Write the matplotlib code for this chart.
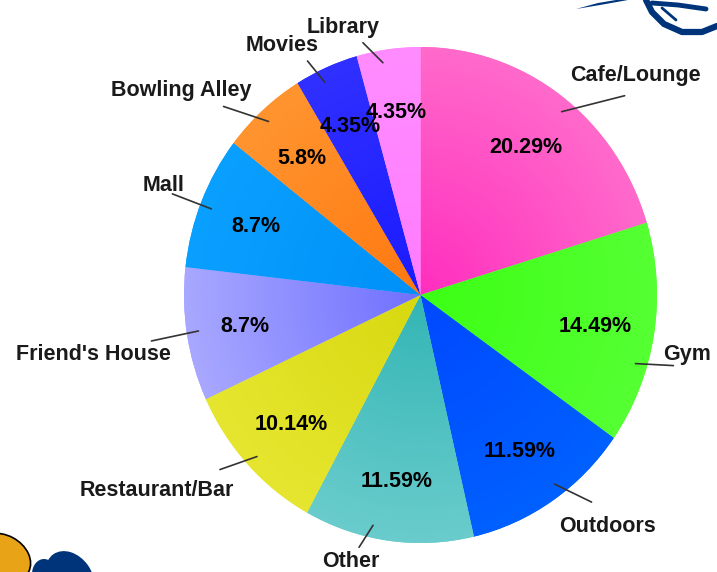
import numpy as np
import matplotlib
matplotlib.use("Agg")
import matplotlib.pyplot as plt
from matplotlib import patches, transforms
from matplotlib.colors import to_rgb

# ---------------- data ----------------
categories = ["Cafe/Lounge", "Gym", "Outdoors", "Other", "Restaurant/Bar",
              "Friend's House", "Mall", "Bowling Alley", "Movies", "Library"]
values = [20.29, 14.49, 11.59, 11.59, 10.14, 8.7, 8.7, 5.8, 4.35, 4.35]
pct_labels = ["20.29%", "14.49%", "11.59%", "11.59%", "10.14%",
              "8.7%", "8.7%", "5.8%", "4.35%", "4.35%"]

# ---------------- style / layout ----------------
inner_colors = ["#FF2EBE", "#3CFF14", "#0048FF", "#33B5B5", "#D8D810",
                "#7070FF", "#0090F8", "#FF7810", "#1A1AFF", "#FF7CFF"]
outer_colors = ["#FF6ACB", "#55FF33", "#0060FF", "#6ACCCC", "#E6E630",
                "#A8A8FF", "#0AA0FF", "#FF9530", "#3030FF", "#FF8CFF"]
# label leader layout (pixels, image y-down)
angle_shift = [-2.4, -7.8, 2.7, -4.4, 0.2, -0.4, 0.7, 0.8, 1.8, 1.8]
line_vec = [(63, -16), (38, 2), (37, 18), (-14, 22), (-37, 13),
            (-47, 10), (-39, -15), (-45, -15), (-17, -21), (-20, -20)]
text_off = [(11, -20), (14, -11), (16, 24), (-8, 14), (-63, 21),
            (-58, 14), (-9, -8), (-42, -16), (-25, -15), (-20, -15)]

W, H = 717, 572
fig = plt.figure(figsize=(W / 100, H / 100), dpi=100)
fig.patch.set_facecolor("white")

cx, cy, rx, ry = 420.5, 295.0, 236.5, 248.0
ax = fig.add_axes([(cx - rx) / W, (H - cy - ry) / H, 2 * rx / W, 2 * ry / H])

font = dict(family=["Liberation Sans", "DejaVu Sans"], weight="bold")

wedges, _ = ax.pie(values, startangle=90, counterclock=False, radius=1,
                   colors=outer_colors, wedgeprops=dict(linewidth=0))
ax.set_aspect("auto")
ax.set_xlim(-1, 1)
ax.set_ylim(-1, 1)
ax.axis("off")

# radial gradients clipped to wedges
N = 400
xs = np.linspace(-1, 1, N)
X, Y = np.meshgrid(xs, xs)
R = np.clip(np.sqrt(X ** 2 + Y ** 2), 0, 1)[..., None]
for w, ci, co in zip(wedges, inner_colors, outer_colors):
    a = np.array(to_rgb(ci))
    b = np.array(to_rgb(co))
    img = a * (1 - R) + b * R
    im = ax.imshow(img, extent=[-1, 1, -1, 1], origin="lower", aspect="auto",
                   zorder=2, interpolation="bilinear")
    im.set_clip_path(w)

# percentage labels
for w, p in zip(wedges, pct_labels):
    th = np.deg2rad((w.theta1 + w.theta2) / 2)
    ax.annotate(p, xy=(0.75 * np.cos(th), 0.75 * np.sin(th)), xytext=(0, -2),
                textcoords="offset pixels", ha="center", va="center",
                fontsize=15.5, color="black", zorder=5, **font)

# category labels with leader lines
for w, lab, sh, lv, to in zip(wedges, categories, angle_shift, line_vec, text_off):
    th = np.deg2rad((w.theta1 + w.theta2) / 2 + sh)
    p0 = (0.95 * np.cos(th), 0.95 * np.sin(th))
    ax.annotate("", xy=p0, xytext=(lv[0], -lv[1]), textcoords="offset pixels",
                arrowprops=dict(arrowstyle="-", color="#333333", lw=1.2,
                                shrinkA=0, shrinkB=0), zorder=6,
                annotation_clip=False)
    ax.annotate(lab, xy=p0, xytext=(lv[0] + to[0], -(lv[1] + to[1])),
                textcoords="offset pixels", ha="center", va="center",
                fontsize=15.5, color="#1a1a1a", zorder=6,
                annotation_clip=False, **font)

# ---------------- decorative logo fragments ----------------
pix = transforms.Affine2D().scale(1 / W, -1 / H).translate(0, 1) + fig.transFigure
navy = "#00347A"
fig.patches.append(patches.Ellipse((2, 558), 60, 46, angle=28, facecolor="#E8A317",
                                   edgecolor="black", lw=1.2, transform=pix))
fig.patches.append(patches.Ellipse((44, 574), 24, 30, angle=0, facecolor=navy,
                                   edgecolor="none", transform=pix))
fig.patches.append(patches.Ellipse((70, 578), 44, 58, angle=-35, facecolor=navy,
                                   edgecolor="none", transform=pix))
fig.patches.append(patches.Polygon([(576, 9), (598, 3), (616, 0), (628, 0), (600, 5)],
                                   closed=True, facecolor=navy, edgecolor="none",
                                   transform=pix))
for pts, lw in [([(646, 0), (652, 12), (664, 24), (682, 32), (702, 32), (717, 26)], 4.5),
                ([(652, 3), (678, 5), (706, 9)], 3.5),
                ([(662, 8), (676, 20)], 2.0)]:
    xs_, ys_ = zip(*pts)
    fig.lines.append(plt.Line2D(xs_, ys_, color=navy, lw=lw, solid_capstyle="round",
                                transform=pix))

fig.savefig("out.png", dpi=100, facecolor="white")
